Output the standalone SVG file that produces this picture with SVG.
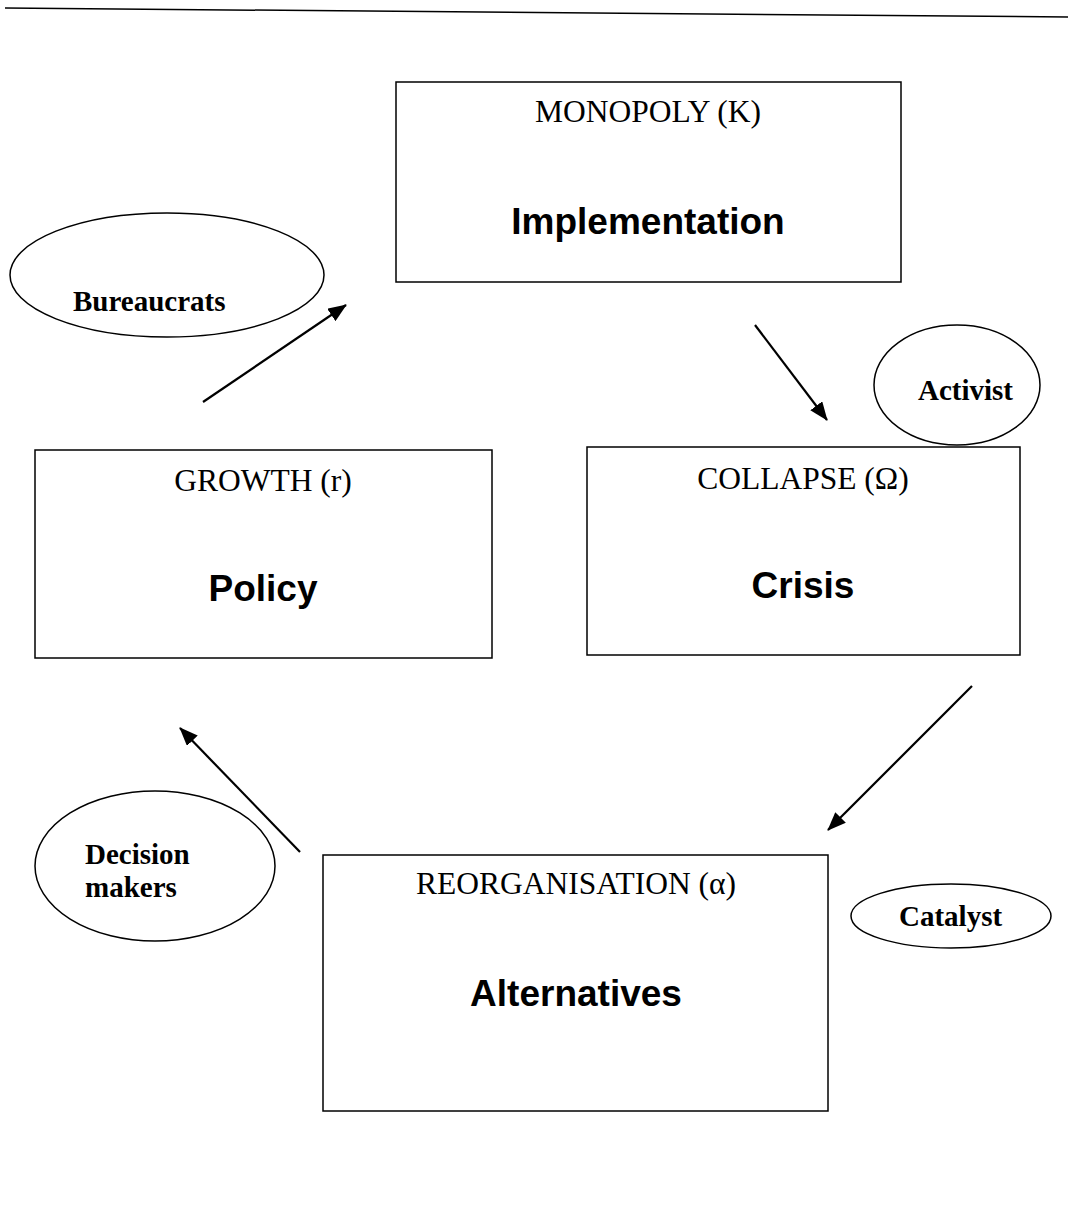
<svg xmlns="http://www.w3.org/2000/svg" width="1073" height="1227" viewBox="0 0 1073 1227">
  <style>
    .box { fill: #fff; stroke: #000; stroke-width: 1.5; }
    .oval { fill: #fff; stroke: #000; stroke-width: 1.5; }
    .title { font-family: "Liberation Serif", "Times New Roman", serif; font-size: 31.5px; fill: #000; text-anchor: middle; }
    .main { font-family: "Liberation Sans", Arial, sans-serif; font-size: 37px; font-weight: bold; fill: #000; text-anchor: middle; }
    .actor { font-family: "Liberation Serif", "Times New Roman", serif; font-size: 29px; font-weight: bold; fill: #000; }
    .link { stroke: #000; stroke-width: 2.2; fill: none; marker-end: url(#head); }
  </style>
  <defs>
    <marker id="head" viewBox="0 0 10 8" refX="9.5" refY="4" markerWidth="8.5" markerHeight="6.8" markerUnits="strokeWidth" orient="auto">
      <path d="M0,0 L10,4 L0,8 z" fill="#000"/>
    </marker>
  </defs>
  <rect width="1073" height="1227" fill="#fff"/>

  <!-- header rule -->
  <line x1="5" y1="8" x2="1068" y2="17" stroke="#000" stroke-width="1.5"/>

  <!-- phase boxes -->
  <g id="monopoly">
    <rect class="box" x="396" y="82" width="505" height="200"/>
    <text class="title" x="648" y="122">MONOPOLY (K)</text>
    <text class="main" x="648" y="234">Implementation</text>
  </g>
  <g id="growth">
    <rect class="box" x="35" y="450" width="457" height="208"/>
    <text class="title" x="263" y="491">GROWTH (r)</text>
    <text class="main" x="263" y="601">Policy</text>
  </g>
  <g id="collapse">
    <rect class="box" x="587" y="447" width="433" height="208"/>
    <text class="title" x="803" y="489">COLLAPSE (Ω)</text>
    <text class="main" x="803" y="598">Crisis</text>
  </g>
  <g id="reorganisation">
    <rect class="box" x="323" y="855" width="505" height="256"/>
    <text class="title" x="576" y="894">REORGANISATION (α)</text>
    <text class="main" x="576" y="1006">Alternatives</text>
  </g>

  <!-- actors -->
  <g id="bureaucrats">
    <ellipse class="oval" cx="167" cy="275" rx="157" ry="62"/>
    <text class="actor" x="73" y="311">Bureaucrats</text>
  </g>
  <g id="activist">
    <ellipse class="oval" cx="957" cy="385" rx="83" ry="60"/>
    <text class="actor" x="918" y="400">Activist</text>
  </g>
  <g id="decision-makers">
    <ellipse class="oval" cx="155" cy="866" rx="120" ry="75"/>
    <text class="actor" x="85" y="864">Decision</text>
    <text class="actor" x="85" y="897">makers</text>
  </g>
  <g id="catalyst">
    <ellipse class="oval" cx="951" cy="916" rx="100" ry="32"/>
    <text class="actor" x="899" y="926">Catalyst</text>
  </g>

  <!-- cycle connectors -->
  <g id="connectors">
    <line class="link" x1="203" y1="402" x2="346" y2="305"/>
    <line class="link" x1="755" y1="325" x2="827" y2="420"/>
    <line class="link" x1="972" y1="686" x2="828" y2="830"/>
    <line class="link" x1="300" y1="852" x2="180" y2="728"/>
  </g>
</svg>
